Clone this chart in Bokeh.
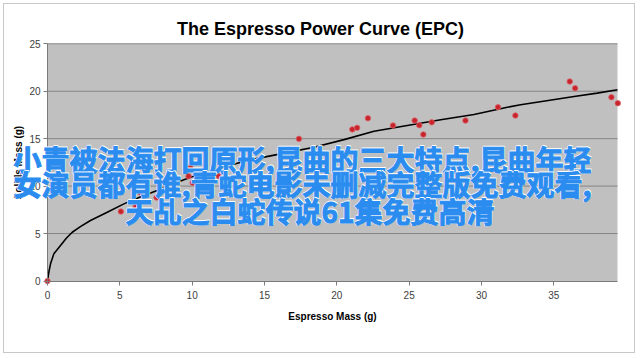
from bokeh.plotting import figure
from bokeh.models import Label, FixedTicker, Range1d, BoxAnnotation
from bokeh.embed import file_html
from bokeh.resources import INLINE

# ---- data ----
title_text = "The Espresso Power Curve (EPC)"
x_label = "Espresso Mass (g)"
y_label = "Solids Mass (g)"
x_ticks = [0, 5, 10, 15, 20, 25, 30, 35]
y_ticks = [0, 5, 10, 15, 20, 25]
x_max = 39.4
y_max = 25

shot_x = [0.0, 5.07, 6.09, 6.38, 7.54, 9.75, 9.87, 10.03, 11.85, 12.7, 17.38,
          21.07, 21.4, 22.15, 23.88, 25.38, 25.7, 25.98, 26.56, 28.89, 31.14,
          32.34, 36.1, 36.47, 38.98, 39.42]
shot_y = [0.0, 7.32, 7.78, 9.36, 8.8, 11.04, 12.0, 10.35, 11.04, 12.77, 14.98,
          15.98, 16.14, 17.15, 16.39, 16.91, 16.42, 15.44, 16.73, 16.91, 18.32,
          17.44, 21.02, 20.32, 19.37, 18.74]

curve_x = [0.0, 0.1, 0.21, 0.44, 0.9, 1.3, 1.71, 2.3, 2.97, 4.13, 5.28, 6.4,
           7.58, 8.7, 9.89, 11.5, 13.81, 16.11, 18.42, 20.5, 22.57, 24.87,
           27.18, 29.48, 31.79, 32.7, 34.5, 36.4, 38.0, 39.4]
curve_y = [0.0, 1.0, 1.81, 2.87, 3.74, 4.5, 5.14, 5.75, 6.38, 7.25, 8.13, 8.85,
           9.54, 10.25, 10.94, 11.72, 12.7, 13.4, 14.1, 14.9, 15.79, 16.39,
           16.99, 17.54, 18.32, 18.57, 19.0, 19.45, 19.8, 20.15]

overlay_lines = ["小青被法海打回原形,昆曲的三大特点,昆曲年轻",
                 "女演员都有谁,青蛇电影未删减完整版免费观看,",
                 "天乩之白蛇传说61集免费高清"]

FONT = "Liberation Sans"

# ---- layout: the frame fills the whole canvas, axes are pinned inside it ----
W, H = 632, 350                      # canvas (page offset 4 px by margin+border)
OFF = 4
AX_LEFT, AX_RIGHT = 47, 617          # page x of plot-area edges
AX_TOP, AX_BOTTOM = 43.3, 280.5      # page y of plot-area edges
kx = (AX_RIGHT - AX_LEFT) / x_max
ky = (AX_BOTTOM - AX_TOP) / y_max


def dx(px):
    return (px - AX_LEFT) / kx


def dy(py):
    return (AX_BOTTOM - py) / ky


p = figure(width=W, height=H, output_backend="svg", toolbar_location=None,
           title=None,
           x_range=Range1d(dx(OFF), dx(OFF + W)),
           y_range=Range1d(dy(OFF + H), dy(OFF)),
           min_border=0)
p.styles = {"margin": "3px", "border": "1px solid #c8c8c8"}

p.background_fill_color = "white"
p.border_fill_color = "white"
p.outline_line_color = None
p.xgrid.visible = False
p.ygrid.visible = False

p.add_layout(BoxAnnotation(left=0, right=x_max, bottom=0, top=y_max,
                           fill_color="#c0c0c0", fill_alpha=1.0,
                           line_color=None, level="underlay"))
grid_y = y_ticks[1:]
p.segment(x0=[0] * len(grid_y), x1=[x_max] * len(grid_y), y0=grid_y, y1=grid_y,
          line_color="#858585", line_width=1)

for ax in (p.xaxis[0], p.yaxis[0]):
    ax.fixed_location = 0
    ax.axis_line_color = "#7a7a7a"
    ax.major_tick_line_color = "#7a7a7a"
    ax.minor_tick_line_color = None
    ax.major_tick_in = 0
    ax.major_tick_out = 4
    ax.major_label_text_font = FONT
    ax.major_label_text_font_size = "10px"
    ax.major_label_text_color = "#404040"
    ax.axis_label_text_font = FONT
    ax.axis_label_text_font_size = "10px"
    ax.axis_label_text_font_style = "bold"
    ax.axis_label_text_color = "black"

p.xaxis.bounds = (0, x_max)
p.yaxis.bounds = (0, y_max)
p.xaxis.ticker = FixedTicker(ticks=x_ticks)
p.yaxis.ticker = FixedTicker(ticks=y_ticks)
p.xaxis.axis_label = x_label
p.yaxis.axis_label = y_label
p.xaxis.major_label_standoff = 6
p.xaxis.axis_label_standoff = 8
p.yaxis.major_label_standoff = 3
p.yaxis.axis_label_standoff = 2

p.line(curve_x, curve_y, line_color="black", line_width=1.6)
p.scatter(shot_x, shot_y, size=5.5, fill_color="#c8242c", line_color="#d9646a",
          line_width=0.8)

p.add_layout(Label(x=dx(320), y=dy(28), text=title_text, text_font=FONT,
                   text_font_size="18px", text_font_style="bold",
                   text_align="center", text_baseline="middle",
                   text_color="black"))

# overlay text: thin white halo beneath, thickened blue fill on top
BLUE = "#2b8cf0"
line_pos = [(302, 158), (302, 183), (309.5, 210)]
for (px, py), t in zip(line_pos, overlay_lines):
    common = dict(x=dx(px), y=dy(py), text=t, text_font="Noto Sans CJK SC",
                  text_font_size="28px", text_font_style="bold",
                  text_align="center", text_baseline="middle")
    for ox, oy in [(-0.5, -0.5), (0.5, 0.5)]:
        p.add_layout(Label(x_offset=ox, y_offset=oy, text_color="white",
                           text_outline_color="white", **common))
    p.add_layout(Label(text_color=BLUE, text_outline_color=BLUE, **common))

open("out.html", "w").write(file_html(p, INLINE))
